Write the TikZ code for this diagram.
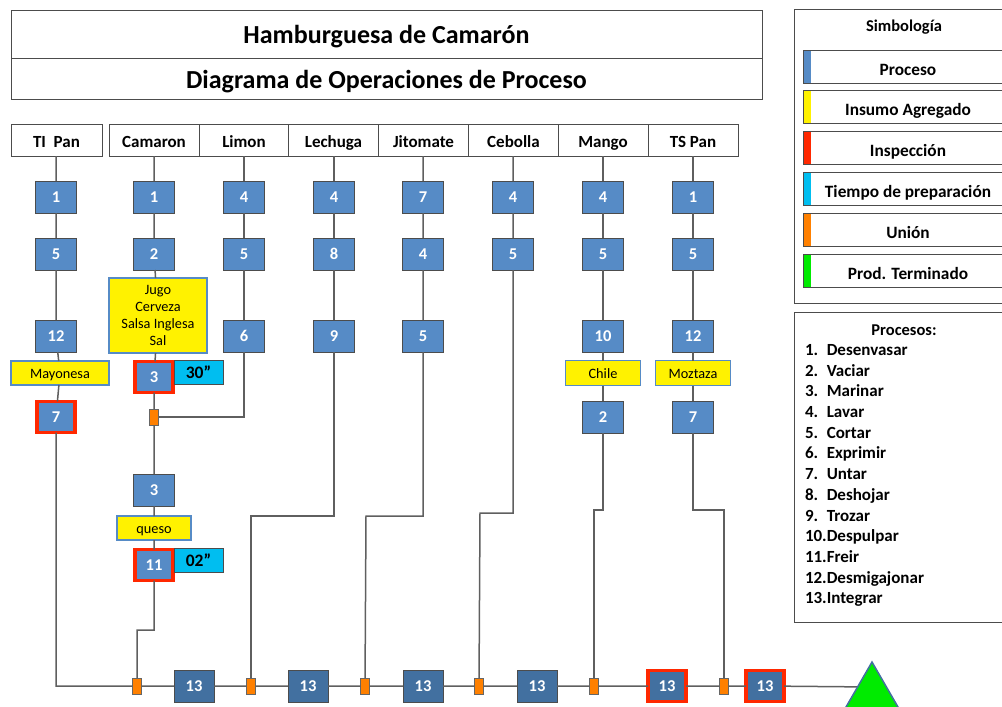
\documentclass[tikz,border=0pt]{standalone}
\usepackage{fontspec}
\setmainfont{Carlito}
\usetikzlibrary{shapes.geometric}

\definecolor{procblue}{RGB}{86,139,198}
\definecolor{darkblue}{RGB}{66,112,160}
\definecolor{inspred}{RGB}{255,40,0}
\definecolor{linegray}{RGB}{95,95,95}
\definecolor{tiempocyan}{RGB}{0,190,240}
\definecolor{unionorange}{RGB}{255,128,0}
\definecolor{fingreen}{RGB}{0,235,0}

\begin{document}
\begin{tikzpicture}[x=1pt, y=-1pt,
    every node/.style={inner sep=0pt, outer sep=0pt},
    wire/.style={draw=linegray, line width=1.5pt},
    frame/.style={draw=black!70, line width=1pt},
    titlebox/.style={frame, minimum width=751pt, text height=21pt, text depth=2pt, font=\fontsize{26}{29}\selectfont\bfseries},
    head/.style={frame, fill=white, minimum width=90pt, minimum height=32pt, text height=15pt, text depth=0pt, font=\fontsize{17}{19}\selectfont\bfseries},
    procbox/.style={draw=black!70, line width=1pt, fill=procblue, text=white, minimum width=41pt, minimum height=32pt, font=\fontsize{16.5}{18}\selectfont\bfseries},
    inspbox/.style={procbox, draw=inspred, line width=3.5pt, minimum width=38pt, minimum height=31pt},
    finbox/.style={procbox, fill=darkblue, minimum width=40pt},
    finred/.style={inspbox, fill=darkblue},
    insumobig/.style={draw=procblue, line width=1.5pt, fill=yellow, align=center, font=\fontsize{14.3}{17.2}\selectfont},
    insumo/.style={insumobig, minimum height=24pt, text height=11pt, text depth=0pt},
    tiempo/.style={draw=black!70, line width=1pt, fill=tiempocyan, minimum width=49pt, minimum height=24pt, font=\fontsize{17.5}{19}\selectfont\bfseries},
    unionbox/.style={draw=black!60, line width=0.8pt, fill=unionorange, minimum width=9pt, minimum height=16pt},
    legbox/.style={frame, minimum width=210pt, minimum height=33pt, text height=17pt, text depth=0pt, font=\fontsize{17.3}{19}\selectfont\bfseries,
        path picture={\fill[#1] (path picture bounding box.north west) rectangle ([xshift=8pt]path picture bounding box.south west);}},
  ]
\clip (0,0) rectangle (1002,707);
\useasboundingbox (0,0) rectangle (1002,707);

% titulo
\node[titlebox, minimum height=48pt] (tit1) at (386.5,34) {Hamburguesa de Camarón};
\node[titlebox, minimum height=41pt] (tit2) at (386.5,78.5) {Diagrama de Operaciones de Proceso};

% encabezados
\node[head, minimum width=91pt] (hti) at (56.5,140) {TI\ \ Pan};
\node[head] (hcam) at (154,140) {Camaron};
\node[head] (hlim) at (244,140) {Limon};
\node[head] (hlec) at (333.5,140) {Lechuga};
\node[head] (hjit) at (423.5,140) {Jitomate};
\node[head] (hceb) at (513.5,140) {Cebolla};
\node[head] (hman) at (603,140) {Mango};
\node[head] (hts) at (693,140) {TS Pan};

% TI Pan
\node[procbox] (ti1) at (56,197) {1};
\node[procbox] (ti5) at (56,254) {5};
\node[procbox] (ti12) at (56,336) {12};
\node[insumo, minimum width=98pt] (mayo) at (60,373) {Mayonesa};
\node[inspbox] (ti7) at (56,417) {7};

% Camaron
\node[procbox] (c1) at (154,197) {1};
\node[procbox] (c2) at (154,254) {2};
\node[insumobig, minimum width=98pt, minimum height=75pt] (jugo) at (158,315.5) {Jugo\\Cerveza\\Salsa Inglesa\\Sal};
\node[inspbox] (c3) at (154,377) {3};
\node[tiempo] (t30) at (198.5,372.5) {30''};
\node[unionbox] (ucam) at (154,417) {};
\node[procbox] (c3b) at (154,490) {3};
\node[insumo, minimum width=74pt] (queso) at (154,528) {queso};
\node[inspbox] (c11) at (154,565) {11};
\node[tiempo] (t02) at (198.5,560.5) {02''};

% Limon
\node[procbox] (l4) at (244,197) {4};
\node[procbox] (l5) at (244,254) {5};
\node[procbox] (l6) at (244,336) {6};

% Lechuga
\node[procbox] (e4) at (334,197) {4};
\node[procbox] (e8) at (334,254) {8};
\node[procbox] (e9) at (334,336) {9};

% Jitomate
\node[procbox] (j7) at (423,197) {7};
\node[procbox] (j4) at (423,254) {4};
\node[procbox] (j5) at (423,336) {5};

% Cebolla
\node[procbox] (b4) at (513,197) {4};
\node[procbox] (b5) at (513,254) {5};

% Mango
\node[procbox] (m4) at (603,197) {4};
\node[procbox] (m5) at (603,254) {5};
\node[procbox] (m10) at (603,336) {10};
\node[insumo, minimum width=75pt, minimum height=25pt] (chile) at (603,373) {Chile};
\node[procbox] (m2) at (603,417) {2};

% TS Pan
\node[procbox] (s1) at (693,197) {1};
\node[procbox] (s5) at (693,254) {5};
\node[procbox] (s12) at (693,336) {12};
\node[insumo, minimum width=75pt, minimum height=25pt] (moz) at (693,373) {Moztaza};
\node[procbox] (s7) at (693,417) {7};

% linea de integracion
\node[unionbox] (u1) at (137,686) {};
\node[finbox] (i1) at (194,686) {13};
\node[unionbox] (u2) at (251,686) {};
\node[finbox] (i2) at (308,686) {13};
\node[unionbox] (u3) at (365,686) {};
\node[finbox] (i3) at (423,686) {13};
\node[unionbox] (u4) at (479,686) {};
\node[finbox] (i4) at (537,686) {13};
\node[unionbox] (u5) at (594,686) {};
\node[finred] (i5) at (667,686) {13};
\node[unionbox] (u6) at (724,686) {};
\node[finred] (i6) at (765,686) {13};

\coordinate (k1) at (137,630);
\coordinate (k2) at (251,516);
\coordinate (k3) at (366,516);
\coordinate (k4) at (480,513);
\coordinate (k5) at (594,510);
\coordinate (k6) at (724,510);
\coordinate (kfin) at (872,687);

% conexiones
\draw[wire] (hti.south -| ti1) -- (ti1) -- (ti5) -- (ti12) -- (mayo) -- (ti7) |- (u1);
\draw[wire] (hcam.south -| c1) -- (c1) -- (c2) -- (jugo) -- (c3) -- (ucam) -- (c3b) -- (queso) -- (c11) |- (k1) -- (u1);
\draw[wire] (hlim.south -| l4) -- (l4) -- (l5) -- (l6) |- (ucam);
\draw[wire] (hlec.south -| e4) -- (e4) -- (e8) -- (e9) |- (k2) -- (u2);
\draw[wire] (hjit.south -| j7) -- (j7) -- (j4) -- (j5) |- (k3) -- (u3);
\draw[wire] (hceb.south -| b4) -- (b4) -- (b5) |- (k4) -- (u4);
\draw[wire] (hman.south -| m4) -- (m4) -- (m5) -- (m10) -- (chile) -- (m2) |- (k5) -- (u5);
\draw[wire] (hts.south -| s1) -- (s1) -- (s5) -- (s12) -- (moz) -- (s7) |- (k6) -- (u6);
\draw[wire] (u1) -- (i1) -- (u2) -- (i2) -- (u3) -- (i3) -- (u4) -- (i4) -- (u5) -- (i5) -- (u6) -- (i6) -- (kfin);

% producto terminado
\node[regular polygon, regular polygon sides=3, minimum size=80pt, fill=fingreen, draw=darkblue, line width=1.5pt] (fin) at (872,702) {};

% simbologia
\draw[frame] (794,9) rectangle (1014,303);
\node[font=\fontsize{16.5}{18}\selectfont\bfseries] (simb) at (904,27) {Simbología};
\node[legbox=procblue] (lproc) at (908,66.5) {Proceso};
\node[legbox=yellow] (lins) at (908,107.3) {Insumo Agregado};
\node[legbox=inspred] (linsp) at (908,148.1) {Inspección};
\node[legbox=tiempocyan] (ltie) at (908,188.9) {Tiempo de preparación};
\node[legbox=unionorange] (luni) at (908,229.7) {Unión};
\node[legbox=fingreen] (lfin) at (908,270.5) {Prod. Terminado};

% procesos
\draw[frame] (794,312) rectangle (1014,622);
\node[font=\fontsize{16.5}{18}\selectfont\bfseries] (ptit) at (904,330) {Procesos:};
\node[anchor=north west, font=\fontsize{17}{20.7}\selectfont\bfseries] (plist) at (805,341) {%
  \begin{tabular}{@{}l@{}l@{}}
  1.\ \  & Desenvasar\\
  2. & Vaciar\\
  3. & Marinar\\
  4. & Lavar\\
  5. & Cortar\\
  6. & Exprimir\\
  7. & Untar\\
  8. & Deshojar\\
  9. & Trozar\\
  10. & Despulpar\\
  11. & Freir\\
  12. & Desmigajonar\\
  13. & Integrar
  \end{tabular}};

\end{tikzpicture}
\end{document}
